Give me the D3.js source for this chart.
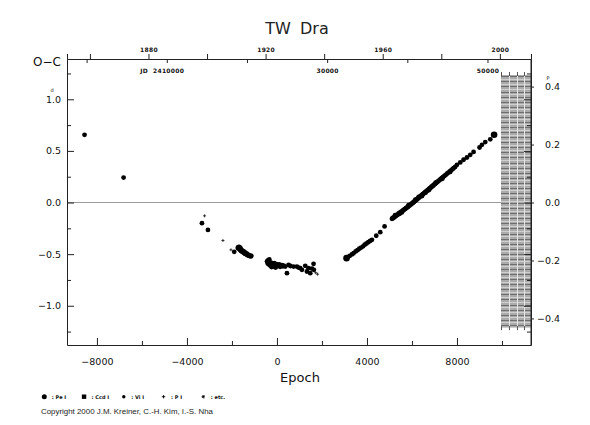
<!DOCTYPE html>
<html><head><meta charset="utf-8">
<script src="https://cdn.jsdelivr.net/npm/d3@7"></script>
<style>
html,body{margin:0;padding:0;background:#fff;}
svg{display:block;}
</style></head><body>
<svg id="c" width="590" height="425"></svg>
<script>
// ---------------- data ----------------
const title = "TW Dra";
const period = 2.8068;          // days
const T0 = 2423740;

// Pe (photoelectric) minima - large circles
const peE  = [3093, 9650];
const peOC = [-0.539, 0.656];

// Vi (visual) minima - dots
const viE = [
  -8551, -6815, -3333, -3067, -1898,
  -1740, -1720, -1700, -1680, -1660, -1640, -1630, -1610, -1600, -1580, -1560, -1540, -1520, -1500,
  -1480, -1460, -1440, -1420, -1400, -1380, -1360, -1340, -1320, -1300, -1280, -1250, -1220, -1190, -1160, -1140,
  -440, -420, -400, -380, -360, -340, -320, -300, -280, -260, -240, -220, -200, -180, -160, -140, -120, -100,
  -80, -60, -40, -20, 0, 30, 60, 100, 140, 180, 220, 260, 300,
  370, 444, 516, 600, 740, 889, 960, 1036, 1111, 1258, 1333, 1404, 1480, 1560, 1627, 1640,
  3230, 3330, 3410, 3500, 3580, 3660, 3740, 3830, 3900, 3980, 4060, 4140, 4222, 4413, 4591, 4782,
  5111, 5140, 5170, 5200, 5230, 5260, 5300, 5330, 5360, 5400, 5430, 5460, 5500, 5530, 5560, 5600, 5630, 5660,
  5700, 5730, 5760, 5800, 5830, 5860, 5900, 5930, 5960, 6000, 6030, 6060, 6090, 6120, 6150, 6180, 6210, 6240,
  6270, 6300, 6330, 6360, 6390, 6420, 6450, 6480, 6510, 6540, 6570, 6600, 6630, 6660, 6690, 6720, 6750, 6780,
  6810, 6840, 6870, 6900, 6930, 6960, 7000, 7030, 7070, 7100, 7140, 7180, 7220, 7258, 7300, 7340, 7380, 7420,
  7470, 7520, 7570, 7620, 7680, 7740, 7800, 7850, 7920,
  5250, 5450, 5550, 5850, 6150, 6300, 6450, 6600, 6750, 7050, 7350, 7700,
  8000, 8147, 8293, 8444, 8591, 8738, 9004, 9111, 9258, 9480
];
const viOC = [
  0.656, 0.242, -0.200, -0.265, -0.478,
  -0.440, -0.432, -0.448, -0.430, -0.445, -0.460, -0.438, -0.452, -0.470, -0.458, -0.466, -0.476, -0.468, -0.480,
  -0.487, -0.477, -0.490, -0.495, -0.486, -0.498, -0.503, -0.495, -0.508, -0.503, -0.513, -0.509, -0.518, -0.514, -0.522, -0.516,
  -0.570, -0.585, -0.560, -0.598, -0.575, -0.552, -0.590, -0.610, -0.580, -0.600, -0.625, -0.590, -0.612, -0.598, -0.620, -0.605, -0.588, -0.615,
  -0.600, -0.630, -0.608, -0.596, -0.618, -0.605, -0.612, -0.600, -0.622, -0.610, -0.606, -0.618, -0.612,
  -0.620, -0.684, -0.604, -0.615, -0.620, -0.620, -0.630, -0.636, -0.652, -0.613, -0.668, -0.636, -0.684, -0.640, -0.594, -0.652,
  -0.517, -0.503, -0.490, -0.474, -0.462, -0.448, -0.436, -0.424, -0.408, -0.397, -0.384, -0.372, -0.361, -0.322, -0.287, -0.232,
  -0.158, -0.148, -0.152, -0.143, -0.140, -0.131, -0.129, -0.120, -0.119, -0.108, -0.106, -0.099, -0.096, -0.088, -0.085, -0.077, -0.074, -0.066,
  -0.062, -0.055, -0.052, -0.043, -0.041, -0.032, -0.028, -0.021, -0.018, -0.009, -0.006, 0.003, 0.006, 0.014, 0.017, 0.025, 0.028, 0.036,
  0.040, 0.045, 0.051, 0.058, 0.062, 0.069, 0.073, 0.081, 0.084, 0.091, 0.095, 0.103, 0.106, 0.113, 0.118, 0.123, 0.130, 0.134,
  0.141, 0.145, 0.153, 0.156, 0.163, 0.167, 0.177, 0.180, 0.189, 0.193, 0.202, 0.208, 0.217, 0.224, 0.230, 0.239, 0.245, 0.254,
  0.262, 0.271, 0.282, 0.290, 0.302, 0.312, 0.322, 0.333, 0.345,
  -0.122, -0.110, -0.096, -0.025, 0.027, 0.055, 0.063, 0.095, 0.120, 0.192, 0.230, 0.296,
  0.365, 0.388, 0.414, 0.436, 0.462, 0.490, 0.533, 0.559, 0.585, 0.612
];

// P (photographic) minima - plus signs
const pE  = [-3217, -2400, -2044, 1720, 1804];
const pOC = [-0.129, -0.368, -0.458, -0.680, -0.694];

// axis ticks
const epochTicks = [-8000, -4000, 0, 4000, 8000];
const epochMinor = [-6000, -2000, 2000, 6000, 10000];
const ocTicks  = [-1.0, -0.5, 0.0, 0.5, 1.0];
const ocMinor  = [-1.25, -0.75, -0.25, 0.25, 0.75, 1.25];
const phaseTicks = [-0.4, -0.2, 0.0, 0.2, 0.4];
const yearTicks  = [1860, 1880, 1900, 1920, 1940, 1960, 1980, 2000];
const yearLabels = [1880, 1920, 1960, 2000];
const jdTicks = [2400000, 2410000, 2420000, 2430000, 2440000, 2450000];
const jdLabelValues = [2410000, 2430000, 2450000];
const jdLabelTexts  = ["JD  2410000", "30000", "50000"];
const phaseBand = [-0.43, 0.44];

const legendKeys  = ["Pe", "Ccd", "Vi", "P", "etc"];
const legendTexts = [": Pe I", ": Ccd I", ": Vi I", ": P I", ": etc."];
const copyright = "Copyright 2000 J.M. Kreiner, C.-H. Kim, I.-S. Nha";

// ---------------- drawing ----------------
const svg = d3.select("#c");
const FONT = "'DejaVu Sans', sans-serif";
const L = 67, R = 531, T = 59, B = 345;

const x = d3.scaleLinear().domain([-9330, 11290]).range([L, R]);
const y = d3.scaleLinear().domain([-1.38, 1.39]).range([B, T]);
const yPh = d3.scaleLinear().domain(y.domain().map(d => d / period)).range([B, T]);
const xJD = d3.scaleLinear().domain(x.domain().map(e => T0 + e * period)).range(x.range());
const xYear = d3.scaleLinear().domain(xJD.domain().map(j => 2000 + (j - 2451545) / 365.25)).range(x.range());

// band on the right
const bandX0 = 501, bandX1 = R;
const bandTop = yPh(phaseBand[1]), bandBot = yPh(phaseBand[0]);
const band = svg.append("g");
band.append("rect").attr("x", bandX0).attr("y", bandTop).attr("width", bandX1 - bandX0)
  .attr("height", bandBot - bandTop).attr("fill", "#ababab");
const hSteps = d3.range(phaseBand[0] + 0.008, phaseBand[1], 0.0175);
band.selectAll("line.hl").data(hSteps).join("line")
  .attr("x1", bandX0).attr("x2", bandX1).attr("y1", d => Math.round(yPh(d) + 2.5) + 0.5).attr("y2", d => Math.round(yPh(d) + 2.5) + 0.5)
  .attr("stroke", "#cfcfcf").attr("stroke-width", 1);
band.selectAll("line.hd").data(hSteps).join("line")
  .attr("x1", bandX0).attr("x2", bandX1).attr("y1", d => Math.round(yPh(d)) + 0.5).attr("y2", d => Math.round(yPh(d)) + 0.5)
  .attr("stroke", "#6e6e6e").attr("stroke-width", 1);
const cols = [bandX0 + 0.5, bandX0 + 8.5, bandX0 + 16.5, bandX0 + 23.5];
band.selectAll("line.v").data(cols.slice(1)).join("line")
  .attr("x1", d => d).attr("x2", d => d).attr("y1", bandTop).attr("y2", bandBot)
  .attr("stroke", "#e6e6e6").attr("stroke-width", 1);
band.selectAll("line.tt").data(cols).join("line")
  .attr("x1", d => d).attr("x2", d => d).attr("y1", bandTop - 3).attr("y2", bandTop + 1)
  .attr("stroke", "#555").attr("stroke-width", 1);
band.selectAll("line.tb").data(cols).join("line")
  .attr("x1", d => d).attr("x2", d => d).attr("y1", bandBot - 1).attr("y2", bandBot + 3)
  .attr("stroke", "#555").attr("stroke-width", 1);

// zero line
svg.append("line").attr("x1", L).attr("x2", bandX0).attr("y1", y(0)).attr("y2", y(0))
  .attr("stroke", "#9a9a9a").attr("stroke-width", 1);

function styleAxis(g, size) {
  g.selectAll("path.domain").attr("stroke", "#222");
  g.selectAll(".tick line").attr("stroke", "#222");
  g.selectAll("text").attr("font-family", FONT).attr("font-size", size).attr("fill", "#111");
}

// bottom axis
const gb = svg.append("g").attr("transform", `translate(0,${B})`)
  .call(d3.axisBottom(x).tickValues(epochTicks).tickSizeInner(-7).tickSizeOuter(0).tickFormat(d3.format("d")));
styleAxis(gb, 9.5);
gb.selectAll("text").attr("y", 20).attr("dy", 0);
svg.append("g").attr("transform", `translate(0,${B})`)
  .call(d3.axisBottom(x).tickValues(epochMinor).tickSizeInner(-4).tickSizeOuter(0).tickFormat(""))
  .call(g => g.select(".domain").remove()).call(g => styleAxis(g, 9.5));

// left axis
const gl = svg.append("g").attr("transform", `translate(${L},0)`)
  .call(d3.axisLeft(y).tickValues(ocTicks).tickSizeInner(-7).tickSizeOuter(0).tickPadding(6).tickFormat(d3.format(".1f")));
styleAxis(gl, 9.5);
gl.selectAll(".tick").filter(d => d === 1).append("text")
  .attr("x", -15).attr("y", -7.5).attr("text-anchor", "middle")
  .attr("font-family", FONT).attr("font-size", 5).attr("fill", "#111").text("d");
svg.append("g").attr("transform", `translate(${L},0)`)
  .call(d3.axisLeft(y).tickValues(ocMinor).tickSizeInner(-4).tickSizeOuter(0).tickFormat(""))
  .call(g => g.select(".domain").remove()).call(g => styleAxis(g, 9.5));

// right axis: inward mirror ticks + outward phase ticks
svg.append("g").attr("transform", `translate(${R},0)`)
  .call(d3.axisLeft(y).tickValues(ocTicks).tickSizeInner(7).tickSizeOuter(0).tickFormat(""))
  .call(g => styleAxis(g, 9.5));
svg.append("g").attr("transform", `translate(${R},0)`)
  .call(d3.axisLeft(y).tickValues(ocMinor).tickSizeInner(4).tickSizeOuter(0).tickFormat(""))
  .call(g => g.select(".domain").remove()).call(g => styleAxis(g, 9.5));
const gr = svg.append("g").attr("transform", `translate(${R},0)`)
  .call(d3.axisRight(yPh).tickValues(phaseTicks).tickSizeInner(3).tickSizeOuter(0).tickFormat(d3.format(".1f")));
gr.select(".domain").remove();
styleAxis(gr, 9.5);
gr.selectAll("text").attr("text-anchor", "end").attr("x", 29);
gr.selectAll(".tick").filter(d => Math.abs(d - 0.4) < 1e-9).append("text")
  .attr("x", 17).attr("y", -7.5).attr("text-anchor", "middle")
  .attr("font-family", FONT).attr("font-size", 5).attr("fill", "#111").text("P");

// top axis: years (above) and JD (below)
const gt = svg.append("g").attr("transform", `translate(0,${T})`)
  .call(d3.axisTop(xYear).tickValues(yearTicks).tickSize(5).tickPadding(2)
    .tickFormat(d => yearLabels.includes(d) ? String(d) : ""));
styleAxis(gt, 6);
gt.selectAll("text").attr("font-weight", "bold").attr("letter-spacing", 0.3);
const gj = svg.append("g").attr("transform", `translate(0,${T})`)
  .call(d3.axisBottom(xJD).tickValues(jdTicks).tickSize(4).tickSizeOuter(0)
    .tickFormat(d => { const i = jdLabelValues.indexOf(d); return i >= 0 ? jdLabelTexts[i] : ""; }));
gj.select(".domain").remove();
styleAxis(gj, 6);
gj.selectAll("text").attr("y", 14).attr("dy", 0).attr("font-weight", "bold")
  .attr("letter-spacing", 0.3).style("white-space", "pre");
gj.selectAll(".tick").filter(d => d === 2410000).select("text").attr("x", -5);

// right frame line
svg.append("line").attr("x1", R).attr("x2", R).attr("y1", T).attr("y2", B).attr("stroke", "#222");

// points
const viData = viE.map((e, i) => [e, viOC[i]]);
const peData = peE.map((e, i) => [e, peOC[i]]);
const pData  = pE.map((e, i) => [e, pOC[i]]);
svg.append("g").selectAll("circle").data(viData).join("circle")
  .attr("cx", d => x(d[0])).attr("cy", d => y(d[1])).attr("r", 2.4).attr("fill", "#000");
svg.append("g").selectAll("circle").data(peData).join("circle")
  .attr("cx", d => x(d[0])).attr("cy", d => y(d[1])).attr("r", 3.3).attr("fill", "#000");
svg.append("g").selectAll("path").data(pData).join("path")
  .attr("d", d => `M${x(d[0]) - 1.5},${y(d[1])}h3M${x(d[0])},${y(d[1]) - 1.5}v3`)
  .attr("stroke", "#222").attr("stroke-width", 0.9);

// titles
svg.append("text").attr("x", 297).attr("y", 33.5).attr("text-anchor", "middle")
  .attr("font-family", FONT).attr("font-size", 16).attr("word-spacing", 4).attr("fill", "#222").text(title);
svg.append("text").attr("x", 33).attr("y", 66).attr("font-family", FONT).attr("font-size", 12)
  .attr("fill", "#111").text("O\u2212C");
svg.append("text").attr("x", 300).attr("y", 382).attr("text-anchor", "middle")
  .attr("font-family", FONT).attr("font-size", 13).attr("fill", "#111").text("Epoch");

// legend
const lg = svg.append("g").attr("transform", "translate(0,396.7)");
legendKeys.forEach((k, i) => {
  const cx = 44.3 + i * 39.75;
  const g = lg.append("g");
  if (k === "Pe") g.append("circle").attr("cx", cx).attr("cy", 0).attr("r", 2.5).attr("fill", "#000");
  if (k === "Ccd") g.append("rect").attr("x", cx - 2.2).attr("y", -2.2).attr("width", 4.4).attr("height", 4.4).attr("fill", "#000");
  if (k === "Vi") g.append("circle").attr("cx", cx).attr("cy", 0).attr("r", 1.7).attr("fill", "#000");
  if (k === "P") g.append("path").attr("d", `M${cx - 1.7},0h3.4M${cx},-1.7v3.4`).attr("stroke", "#000").attr("stroke-width", 0.9);
  if (k === "etc") g.append("path").attr("d", `M${cx - 1.7},0h3.4M${cx - 1.2},-1.2l2.4,2.4M${cx - 1.2},1.2l2.4,-2.4M${cx},-1.7v3.4`).attr("stroke", "#000").attr("stroke-width", 0.8);
  g.append("text").attr("x", cx + 7.5).attr("y", 1.8).attr("font-family", FONT).attr("font-size", 5)
    .attr("font-weight", "bold").attr("fill", "#111").text(legendTexts[i]);
});

svg.append("text").attr("x", 41).attr("y", 414).attr("font-family", "'Liberation Sans', Arial, sans-serif")
  .attr("font-size", 7.6).attr("fill", "#222").attr("textLength", 172).attr("lengthAdjust", "spacingAndGlyphs")
  .text(copyright);
</script>
</body></html>
